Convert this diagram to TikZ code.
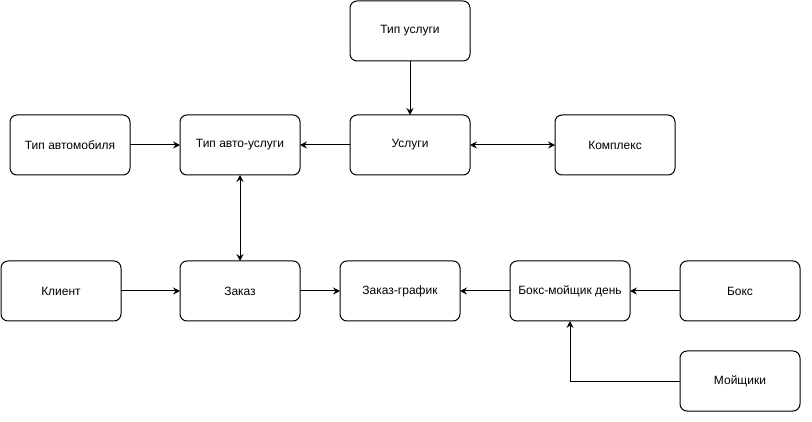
\documentclass[tikz,border=0pt]{standalone}
\usepackage{fontspec}
\setmainfont{Liberation Sans}
\usetikzlibrary{arrows.meta,positioning}

\begin{document}
\begin{tikzpicture}[
  x=1pt,y=1pt,
  font=\fontsize{12}{14}\selectfont,
  ent/.style={draw=black,fill=white,rounded corners=7pt,line width=1pt,
              minimum width=120pt,minimum height=60pt,inner sep=0pt,outer sep=0pt,
              align=center},
  ar/.style={-{Stealth[length=7pt,width=7pt,inset=2.5pt]},draw=black,line width=1pt},
  dar/.style={{Stealth[length=7pt,width=7pt,inset=2.5pt]}-{Stealth[length=7pt,width=7pt,inset=2.5pt]},draw=black,line width=1pt}
]
\useasboundingbox (0,0) rectangle (812,-422);

% upper part
\node[ent] (tipusl) at (410,-31) {Тип услуги};
\node[ent] (tipauto) at (70,-145) {Тип автомобиля};
\node[ent,right=50pt of tipauto] (tipau) {Тип авто-услуги};
\node[ent,right=50pt of tipau] (usl) {Услуги};
\node[ent,right=85pt of usl] (kompl) {Комплекс};

% lower part
\node[ent] (klient) at (61,-291) {Клиент};
\node[ent] (zakaz) at (240,-291) {Заказ};
\node[ent,right=40pt of zakaz] (zgraf) {Заказ-график};
\node[ent,right=50pt of zgraf] (bmd) {Бокс-мойщик день};
\node[ent,right=50pt of bmd] (boks) {Бокс};
\node[ent,below=30pt of boks] (moysh) {Мойщики};

\draw[ar] (tipusl) -- (usl);
\draw[ar] (tipauto) -- (tipau);
\draw[ar] (usl) -- (tipau);
\draw[dar] (usl) -- (kompl);
\draw[dar] (tipau) -- (zakaz);
\draw[ar] (klient) -- (zakaz);
\draw[ar] (zakaz) -- (zgraf);
\draw[ar] (bmd) -- (zgraf);
\draw[ar] (boks) -- (bmd);
\draw[ar] (moysh.west) -| (bmd.south);
\end{tikzpicture}
\end{document}
